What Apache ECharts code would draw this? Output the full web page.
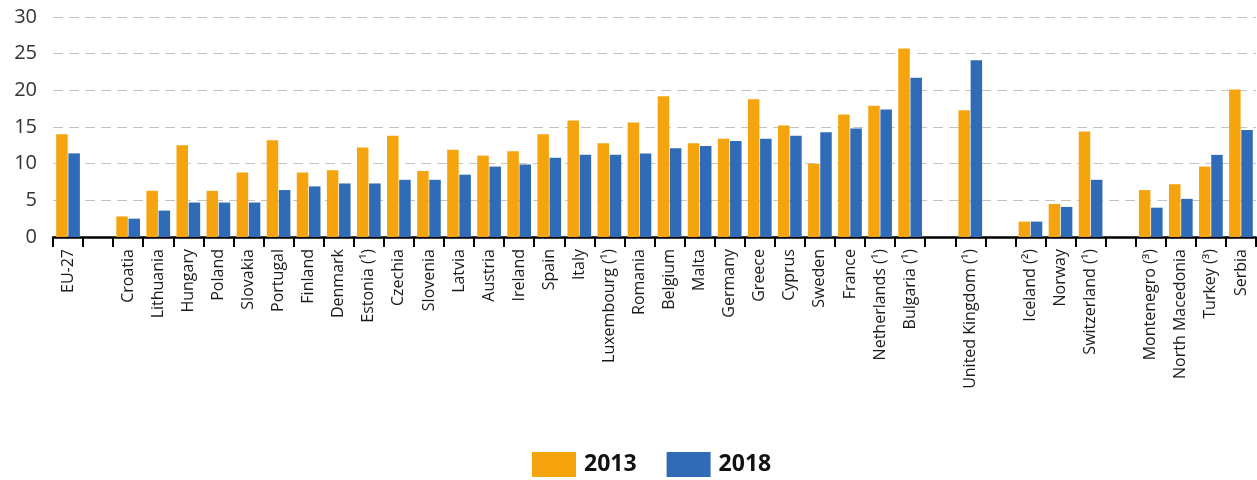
<!DOCTYPE html>
<html>
<head>
<meta charset="utf-8">
<script src="https://cdn.jsdelivr.net/npm/echarts@6/dist/echarts.min.js"></script>
<style>
html,body{margin:0;padding:0;background:#fff;}
#chart{width:1257px;height:480px;}
</style>
</head>
<body>
<div id="chart"></div>
<script>
const categories = ['EU-27', ' ', 'Croatia', 'Lithuania', 'Hungary', 'Poland', 'Slovakia', 'Portugal', 'Finland', 'Denmark', 'Estonia (\u00b9)', 'Czechia', 'Slovenia', 'Latvia', 'Austria', 'Ireland', 'Spain', 'Italy', 'Luxembourg (\u00b9)', 'Romania', 'Belgium', 'Malta', 'Germany', 'Greece', 'Cyprus', 'Sweden', 'France', 'Netherlands (\u00b9)', 'Bulgaria (\u00b9)', '  ', 'United Kingdom (\u00b9)', '   ', 'Iceland (\u00b2)', 'Norway', 'Switzerland (\u00b9)', '    ', 'Montenegro (\u00b3)', 'North Macedonia', 'Turkey (\u00b3)', 'Serbia'];
const values2013 = [14.0, null, 2.8, 6.3, 12.5, 6.3, 8.8, 13.2, 8.8, 9.1, 12.2, 13.8, 9.0, 11.9, 11.1, 11.7, 14.0, 15.9, 12.8, 15.6, 19.2, 12.8, 13.4, 18.8, 15.2, 10.0, 16.7, 17.9, 25.7, null, 17.3, null, 2.1, 4.5, 14.4, null, 6.4, 7.2, 9.6, 20.1];
const values2018 = [11.4, null, 2.5, 3.6, 4.7, 4.7, 4.7, 6.4, 6.9, 7.3, 7.3, 7.8, 7.8, 8.5, 9.6, 9.9, 10.8, 11.2, 11.2, 11.4, 12.1, 12.4, 13.1, 13.4, 13.8, 14.3, 14.8, 17.4, 21.7, null, 24.1, null, 2.1, 4.1, 7.8, null, 4.0, 5.2, 11.2, 14.6];
const yTicks = {min: 0, max: 30, interval: 5};

const chart = echarts.init(document.getElementById('chart'));
chart.setOption({
  animation: false,
  backgroundColor: '#ffffff',
  grid: {left: 53, right: 1, top: 17, bottom: 243, containLabel: false},
  legend: {
    top: 447, left: 527,
    itemWidth: 44, itemHeight: 25, itemGap: 30,
    icon: 'rect',
    textStyle: {fontSize: 23, fontWeight: 'bold', color: '#111', fontFamily: "'Open Sans', sans-serif", padding: [0, 0, 0, 3]},
    data: ['2013', '2018']
  },
  xAxis: {
    type: 'category',
    data: categories,
    boundaryGap: true,
    axisLine: {lineStyle: {color: '#000', width: 2.5}},
    axisTick: {show: true, interval: 0, length: 10, lineStyle: {color: '#000', width: 2}},
    axisLabel: {
      interval: 0, rotate: 90, margin: 12,
      fontSize: 16, color: '#1a1a1a',
      fontFamily: "'Open Sans', sans-serif"
    }
  },
  yAxis: {
    type: 'value',
    min: yTicks.min, max: yTicks.max, interval: yTicks.interval,
    axisLine: {show: false},
    axisTick: {show: false},
    axisLabel: {fontSize: 20, color: '#333', margin: 16, fontFamily: "'Open Sans', sans-serif"},
    splitLine: {lineStyle: {color: '#c4c4c4', width: 1, type: [10, 6]}}
  },
  series: [
    {name: '2013', type: 'bar', data: values2013, barWidth: 11.5, barGap: '6%', itemStyle: {color: '#F5A40E'}},
    {name: '2018', type: 'bar', data: values2018, barWidth: 11.5, barGap: '6%', itemStyle: {color: '#2F6BB6'}}
  ]
});
</script>
</body>
</html>
